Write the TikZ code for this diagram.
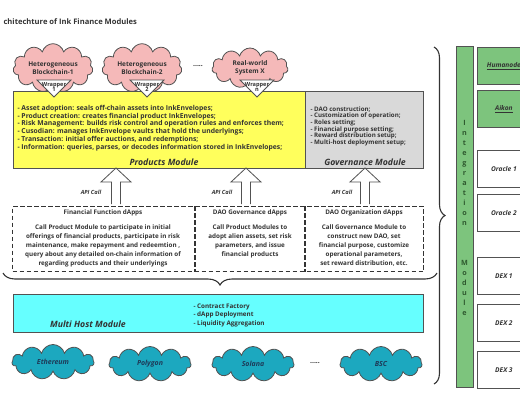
\documentclass[tikz,border=0pt]{standalone}
\usepackage{fontspec}
\setmainfont{Open Sans}
\usetikzlibrary{shapes.symbols,decorations.pathreplacing}

\definecolor{ink}{HTML}{333333}
\definecolor{pinkcloud}{HTML}{F5B9B9}
\definecolor{prodyellow}{HTML}{FFFF5C}
\definecolor{govgray}{HTML}{D9D9D9}
\definecolor{hostcyan}{HTML}{66FFFF}
\definecolor{chaincloud}{HTML}{1CA8BF}
\definecolor{chaintext}{HTML}{1E3A58}
\definecolor{intgreen}{HTML}{7DC47D}
\definecolor{intdark}{HTML}{2F5A2F}

\begin{document}
\begin{tikzpicture}[
        x=1pt, y=-1pt,
        every node/.style={text=ink, font=\bfseries},
        frame/.style={draw=ink!85, line width=0.8pt},
        dashedline/.style={draw=ink, line width=1.1pt, dash pattern=on 4.5pt off 2.5pt},
        srccloud/.style={cloud, cloud puffs=11, aspect=2, frame, fill=pinkcloud,
            minimum width=80pt, minimum height=40pt, inner sep=0pt, align=center,
            font=\bfseries\fontsize{6.5}{8.5}\selectfont},
        chaincl/.style={cloud, cloud puffs=11, aspect=2.4, frame, fill=chaincloud,
            minimum width=82pt, minimum height=35pt, inner sep=0pt, text=chaintext,
            font=\bfseries\itshape\fontsize{7}{8}\selectfont},
        modlabel/.style={font=\bfseries\itshape\fontsize{8.7}{10}\selectfont},
        apilabel/.style={font=\bfseries\itshape\fontsize{5.7}{6}\selectfont},
        dapptitle/.style={font=\bfseries\fontsize{6.3}{8}\selectfont},
        dappbody/.style={align=center, font=\bfseries\fontsize{6.3}{9}\selectfont},
        hollow/.style={frame, fill=white},
        sidebox/.style={frame, minimum width=53pt, minimum height=37pt, anchor=north west,
            inner sep=0pt, font=\bfseries\itshape\fontsize{6.6}{7}\selectfont},
        bracestyle/.style={draw=ink, line width=1.1pt, decorate}
    ]
 \useasboundingbox (0,0) rectangle (520,400);
 \clip (0,0) rectangle (520,400);
 % title
 \node[anchor=west, font=\bfseries\fontsize{7.6}{8}\selectfont] (title) at (0,22) {chitechture of Ink Finance Modules};
 % sources
 \node[srccloud] (het1) at (53,68) {Heterogeneous\\Blockchain-1};
 \node[srccloud] (het2) at (142,68) {Heterogeneous\\Blockchain-2};
 \node[font=\bfseries\fontsize{7}{8}\selectfont] (srcdots) at (198,66) {.....};
 \node[srccloud, minimum width=76pt] (real) at (250,68) {Real-world\\System X};
 % modules
 \node[frame, fill=prodyellow, minimum width=292pt, minimum height=77pt, anchor=north west] (prod) at (13,91) {};
 \node[frame, fill=govgray, minimum width=118pt, minimum height=77pt, anchor=north west] (gov) at (305,91) {};
 \node[anchor=north west, align=left, font=\bfseries\fontsize{6.8}{7.8}\selectfont] (prodlist) at (14,101.5)
   {- Asset adoption: seals off-chain assets into InkEnvelopes;\\
    - Product creation: creates financial product InkEnvelopes;\\
    - Risk Management: builds risk control and operation rules and enforces them;\\
    - Cusodian: manages InkEnvelope vaults that hold the underlyings;\\
    - Transaction: initial offer auctions, and redemptions;\\
    - Information: queries, parses, or decodes information stored in InkEnvelopes;};
 \node[modlabel] (prodname) at (164,162) {Products Module};
 \node[anchor=north west, align=left, font=\bfseries\fontsize{6.2}{6.6}\selectfont] (govlist) at (307,103)
   {- DAO construction;\\
    - Customization of operation;\\
    - Roles setting;\\
    - Financial purpose setting;\\
    - Reward distribution setup;\\
    - Multi-host deployment setup;};
 \node[modlabel] (govname) at (365,162) {Governance Module};
 % wrappers
 \foreach \wx/\wn [count=\i] in {54/1, 147/2, 257/n} {
   \coordinate (wrap\i) at (\wx,97);
   \draw[hollow] (wrap\i) -- ++(-17,-17) -- ++(34,0) -- cycle;
   \node[align=center, inner sep=0pt, font=\bfseries\fontsize{5.6}{5.8}\selectfont] (wraptext\i) at (\wx,87) {Wrapper\\\wn};
 }
 % dApps
 \node[dashedline, minimum width=411pt, minimum height=65pt, anchor=north west] (dapps) at (12,206) {};
 \draw[dashedline] (195,0 |- dapps.north) -- (195,0 |- dapps.south);
 \draw[dashedline] (305,0 |- dapps.north) -- (305,0 |- dapps.south);
 \node[dapptitle] (fintitle) at (103,213) {Financial Function dApps};
 \node[dappbody] (finbody) at (103,246) {Call Product Module to participate in initial\\
   offerings of financial products, participate in risk\\
   maintenance, make repayment and redeemtion ,\\
   query about any detailed on-chain information of\\
   regarding products and their underlyings};
 \node[dapptitle] (govtitle) at (250,213) {DAO Governance dApps};
 \node[dappbody] (govbody) at (250,241.5) {Call Product Modules to\\
   adopt alien assets, set risk\\ parameters, and issue\\ financial products};
 \node[dapptitle] (orgtitle) at (364,213) {DAO Organization dApps};
 \node[dappbody] (orgbody) at (364,246) {Call Governance Module to\\
   construct new DAO, set\\ financial purpose, customize\\
   operational parameters,\\ set reward distribution, etc.};
 % API calls
 \foreach \ax/\lx in {116/91, 246/222, 365/342} {
   \draw[hollow] (\ax-4.5,204) -- (\ax-4.5,182) -- (\ax-15,182) -- (\ax,168)
      -- (\ax+15,182) -- (\ax+4.5,182) -- (\ax+4.5,204);
   \node[apilabel] at (\lx,192) {API Call};
 }
 % brace under dApps
 \draw[bracestyle, decoration={brace, amplitude=12pt}] (437,273) -- (3,273);
 % multi host
 \node[frame, fill=hostcyan, minimum width=410pt, minimum height=38pt, anchor=north west] (host) at (13,294) {};
 \node[modlabel] (hostname) at (88,324) {Multi Host Module};
 \node[anchor=north west, align=left, font=\bfseries\fontsize{6.3}{8.5}\selectfont] (hostlist) at (190,300)
   {- Contract Factory\\ - dApp Deployment\\ - Liquidity Aggregation};
 % chains
 \node[chaincl] (eth) at (53,362) {Ethereum};
 \node[chaincl] (poly) at (150,364) {Polygon};
 \node[chaincl] (sol) at (253,364) {Solana};
 \node[font=\bfseries\fontsize{7}{8}\selectfont] (chaindots) at (315,363) {.....};
 \node[chaincl] (bsc) at (381,364) {BSC};
 % integration
 \draw[bracestyle, decoration={brace, amplitude=11pt}] (434,47) -- (434,384);
 \node[frame, fill=intgreen, minimum width=17pt, minimum height=341pt, anchor=north west, inner sep=0pt] (integ) at (456,46) {};
 \node[anchor=north, align=center, text=intdark, font=\bfseries\fontsize{7.2}{10}\selectfont] (integname) at (464.5,117)
   {I\\n\\t\\e\\g\\r\\a\\t\\i\\o\\n\\ \\ \\ \\M\\o\\d\\u\\l\\e};
 \node[sidebox, fill=intgreen] (humanode) at (477,47) {\underline{Humanode}};
 \node[sidebox, fill=intgreen] (aikon) at (477,90) {\underline{Aikon}};
 \node[sidebox] (oracle1) at (477,150) {Oracle 1};
 \node[sidebox] (oracle2) at (477,194) {Oracle 2};
 \node[sidebox] (dex1) at (477,257) {DEX 1};
 \node[sidebox] (dex2) at (477,304) {DEX 2};
 \node[sidebox] (dex3) at (477,351) {DEX 3};
\end{tikzpicture}
\end{document}
